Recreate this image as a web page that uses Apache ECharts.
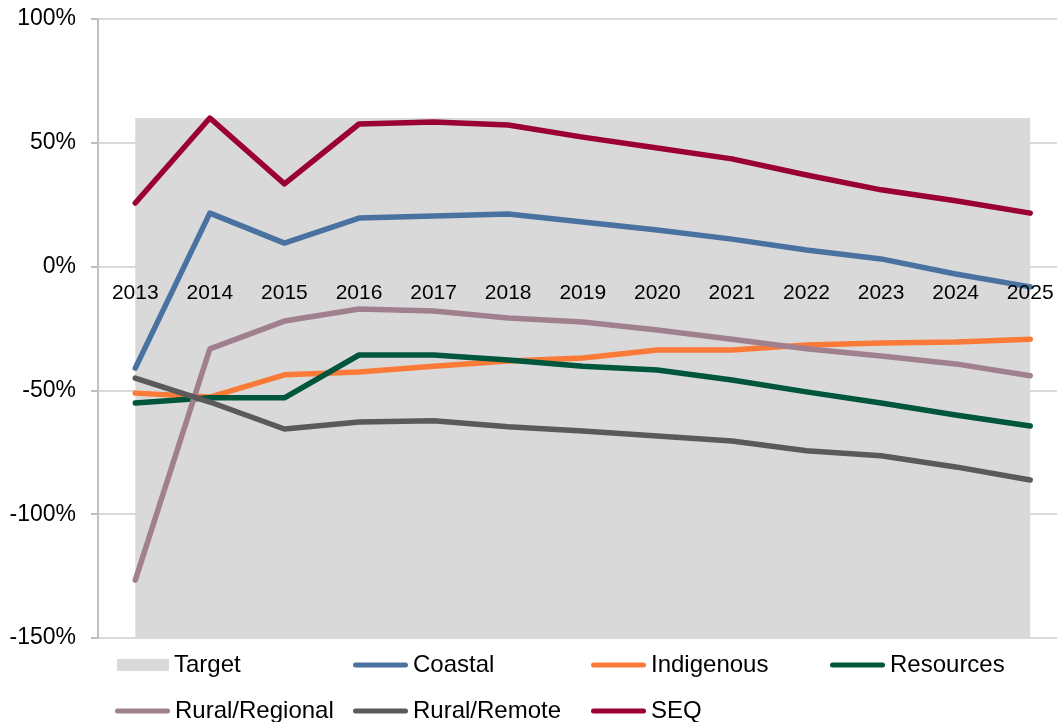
<!DOCTYPE html>
<html>
<head>
<meta charset="utf-8">
<script src="https://cdn.jsdelivr.net/npm/echarts@6/dist/echarts.min.js"></script>
<style>
html,body{margin:0;padding:0;background:#fff;}
#chart{width:1057px;height:722px;}
</style>
</head>
<body>
<div id="chart"></div>
<script>
const years = ['2013','2014','2015','2016','2017','2018','2019','2020','2021','2022','2023','2024','2025'];
const yTicks = [-150, -100, -50, 0, 50, 100];
const target = [60, 60, 60, 60, 60, 60, 60, 60, 60, 60, 60, 60, 60];
const coastal = [-41, 21.6, 9.5, 19.6, 20.4, 21.2, 18, 14.8, 11.1, 6.7, 3.1, -3, -8.2];
const indigenous = [-51.1, -52.7, -43.7, -42.6, -40.2, -38.1, -36.9, -33.7, -33.7, -31.7, -30.9, -30.5, -29.3];
const resources = [-55.1, -53, -53, -35.7, -35.7, -37.7, -40.2, -41.8, -45.8, -50.6, -55.1, -59.9, -64.4];
const ruralRegional = [-126.6, -33.2, -22, -17.1, -17.9, -20.8, -22.4, -25.6, -29.3, -33.2, -36.1, -39.3, -44.1];
const ruralRemote = [-45, -54.7, -65.6, -62.8, -62.3, -64.7, -66.4, -68.4, -70.4, -74.4, -76.4, -80.9, -86.2];
const seq = [25.7, 60, 33.4, 57.6, 58.4, 57.2, 52.3, 47.9, 43.5, 37, 31, 26.6, 21.6];

const lineSeries = [
  {name: 'Coastal', data: coastal, color: '#4a72a0'},
  {name: 'Indigenous', data: indigenous, color: '#fb7a38'},
  {name: 'Resources', data: resources, color: '#00563c'},
  {name: 'Rural/Regional', data: ruralRegional, color: '#a0808e'},
  {name: 'Rural/Remote', data: ruralRemote, color: '#5a5a5a'},
  {name: 'SEQ', data: seq, color: '#9b0033'}
];

const FONT = '"Liberation Sans", Arial, sans-serif';
const lineIcon = 'path://M2.5,0 H52.5 A2.5,2.5 0 0 1 52.5,5 H2.5 A2.5,2.5 0 0 1 2.5,0 Z';

const GRID_TOP = 19, GRID_BOTTOM = 84, CHART_H = 722;
const plotH = CHART_H - GRID_TOP - GRID_BOTTOM;
const yMin = yTicks[0], yMax = yTicks[yTicks.length - 1];
const zeroOffset = -plotH * (0 - yMin) / (yMax - yMin);

const legendPos = {
  'Target': [117, 653],
  'Coastal': [353, 653],
  'Indigenous': [591, 653],
  'Resources': [830, 653],
  'Rural/Regional': [115, 699],
  'Rural/Remote': [353, 699],
  'SEQ': [591, 699]
};

const legends = Object.keys(legendPos).map(function (name) {
  const isTarget = name === 'Target';
  return {
    data: [name],
    left: legendPos[name][0],
    top: legendPos[name][1],
    icon: isTarget ? 'rect' : lineIcon,
    itemWidth: isTarget ? 52 : 55,
    itemHeight: isTarget ? 12 : 5,
    textStyle: {fontFamily: FONT, fontSize: 24, color: '#000'},
    selectedMode: false,
    padding: 0
  };
});

const chart = echarts.init(document.getElementById('chart'));
chart.setOption({
  animation: false,
  backgroundColor: '#fff',
  textStyle: {fontFamily: FONT},
  legend: legends,
  grid: {left: 98, width: 969.5, top: GRID_TOP, bottom: GRID_BOTTOM, containLabel: false, outerBoundsMode: 'none'},
  xAxis: {
    type: 'category',
    data: years,
    boundaryGap: true,
    position: 'bottom',
    offset: zeroOffset,
    axisLine: {show: false, onZero: false},
    axisTick: {show: false},
    axisLabel: {fontFamily: FONT, fontSize: 21, color: '#000', margin: 16},
    splitLine: {show: false},
    z: 5
  },
  yAxis: {
    type: 'value',
    min: yMin,
    max: yMax,
    interval: 50,
    axisLine: {show: true, lineStyle: {color: '#c0c0c0', width: 2}},
    axisTick: {show: true, length: 7, lineStyle: {color: '#c0c0c0', width: 2}},
    axisLabel: {fontFamily: FONT, fontSize: 23, color: '#000', margin: 22, formatter: '{value}%'},
    splitLine: {show: true, lineStyle: {color: '#d9d9d9', width: 2}}
  },
  series: [
    {
      name: 'Target',
      type: 'line',
      data: target,
      symbol: 'none',
      lineStyle: {width: 0},
      itemStyle: {color: '#d9d9d9'},
      areaStyle: {color: '#d9d9d9', opacity: 1, origin: 'start'},
      z: 1
    }
  ].concat(lineSeries.map(function (s) {
    return {
      name: s.name,
      type: 'line',
      data: s.data,
      symbol: 'none',
      showSymbol: false,
      itemStyle: {color: s.color},
      lineStyle: {color: s.color, width: 5.5, cap: 'round', join: 'round'},
      z: 3
    };
  }))
});
</script>
</body>
</html>
